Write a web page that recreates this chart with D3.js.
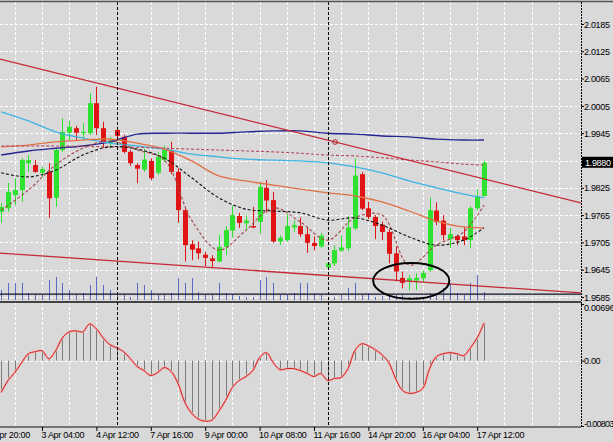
<!DOCTYPE html>
<html><head><meta charset="utf-8">
<script src="https://cdnjs.cloudflare.com/ajax/libs/d3/7.8.5/d3.min.js"></script>
<style>html,body{margin:0;padding:0;background:#d9d9d9;overflow:hidden}
text{font-family:"Liberation Sans",Arial,sans-serif;font-size:9px;letter-spacing:-0.3px;fill:#000}</style>
</head><body><svg id="c" width="613" height="442"></svg>
<script>
// ---- data ----
const opens=[1.9772,1.9780,1.9809,1.9820,1.9879,1.9875,1.9858,1.9860,1.9803,1.9908,1.9946,1.9956,1.9945,1.9945,2.0011,1.9956,1.9923,1.9952,1.9937,1.9904,1.9875,1.9865,1.9884,1.9858,1.9886,1.9906,1.9860,1.9776,1.9701,1.9692,1.9678,1.9670,1.9663,1.9695,1.9731,1.9763,1.9747,1.9741,1.9750,1.9825,1.9798,1.9707,1.9710,1.9738,1.9741,1.9723,1.9704,1.9696,1.9650,1.9659,1.9687,1.9692,1.9736,1.9855,1.9780,1.9761,1.9744,1.9728,1.9681,1.9627,1.9619,1.9621,1.9626,1.9644,1.9775,1.9753,1.9712,1.9719,1.9718,1.9710,1.9780,1.9807];
const highs=[1.9792,1.9836,1.9846,1.9890,1.9897,1.9886,1.9871,1.9879,1.9912,1.9978,1.9972,1.9961,1.9967,2.0033,2.0047,1.9970,1.9937,1.9959,1.9941,1.9908,1.9879,1.9911,1.9890,1.9904,1.9918,1.9926,1.9868,1.9781,1.9710,1.9707,1.9684,1.9677,1.9721,1.9741,1.9786,1.9770,1.9765,1.9783,1.9838,1.9842,1.9816,1.9721,1.9767,1.9754,1.9760,1.9739,1.9718,1.9726,1.9662,1.9699,1.9721,1.9763,1.9889,1.9860,1.9794,1.9765,1.9751,1.9734,1.9696,1.9641,1.9633,1.9637,1.9644,1.9804,1.9793,1.9765,1.9737,1.9722,1.9738,1.9785,1.9822,1.9884];
const lows=[1.9748,1.9772,1.9787,1.9794,1.9860,1.9858,1.9849,1.9759,1.9783,1.9904,1.9930,1.9930,1.9934,1.9941,1.9941,1.9912,1.9912,1.9930,1.9901,1.9873,1.9835,1.9860,1.9842,1.9853,1.9882,1.9855,1.9748,1.9663,1.9666,1.9668,1.9653,1.9651,1.9662,1.9677,1.9715,1.9737,1.9732,1.9736,1.9723,1.9770,1.9704,1.9699,1.9706,1.9728,1.9717,1.9682,1.9688,1.9693,1.9646,1.9653,1.9684,1.9686,1.9732,1.9776,1.9756,1.9712,1.9710,1.9659,1.9619,1.9604,1.9599,1.9600,1.9618,1.9640,1.9743,1.9710,1.9692,1.9699,1.9699,1.9692,1.9776,1.9805];
const closes=[1.9783,1.9816,1.9820,1.9886,1.9886,1.9860,1.9866,1.9802,1.9908,1.9948,1.9959,1.9946,1.9948,2.0011,1.9956,1.9923,1.9928,1.9939,1.9904,1.9879,1.9867,1.9887,1.9846,1.9893,1.9908,1.9860,1.9776,1.9699,1.9689,1.9681,1.9671,1.9664,1.9695,1.9732,1.9765,1.9748,1.9753,1.9738,1.9827,1.9797,1.9707,1.9715,1.9741,1.9743,1.9723,1.9704,1.9697,1.9720,1.9659,1.9688,1.9694,1.9738,1.9852,1.9779,1.9761,1.9741,1.9728,1.9680,1.9641,1.9616,1.9626,1.9627,1.9638,1.9776,1.9750,1.9721,1.9723,1.9710,1.9710,1.9780,1.9807,1.9880];
const volumes=[400,680,680,680,280,200,200,800,920,680,400,200,280,600,920,600,400,320,200,120,680,600,400,200,200,280,880,680,880,320,240,200,680,280,240,160,120,120,800,920,680,200,200,280,680,680,280,200,120,120,200,480,680,200,280,120,160,160,200,200,120,120,120,280,280,480,680,280,200,680,1000,320];
const macd=[-0.00390,-0.00244,-0.00146,-0.00024,0.00085,0.00110,0.00122,0.00024,0.00122,0.00280,0.00354,0.00366,0.00354,0.00451,0.00390,0.00280,0.00195,0.00158,0.00110,0.00024,-0.00073,-0.00122,-0.00183,-0.00146,-0.00085,-0.00134,-0.00280,-0.00512,-0.00646,-0.00719,-0.00744,-0.00731,-0.00622,-0.00488,-0.00329,-0.00244,-0.00195,-0.00122,0.00037,0.00098,-0.00024,-0.00110,-0.00098,-0.00098,-0.00122,-0.00158,-0.00195,-0.00158,-0.00244,-0.00219,-0.00207,-0.00098,0.00122,0.00207,0.00183,0.00134,0.00073,-0.00024,-0.00219,-0.00366,-0.00402,-0.00390,-0.00341,-0.00098,0.00049,0.00085,0.00098,0.00085,0.00061,0.00158,0.00280,0.00463];
// moving averages, sampled at these bars
const maBars=[0,4,8,12,16,20,24,28,32,36,40,44,48,52,56,60,64,68,71];
const maNavy=[1.9897,1.9906,1.9912,1.9917,1.9926,1.9943,1.9945,1.9945,1.9945,1.9948,1.9950,1.9950,1.9945,1.9943,1.9939,1.9937,1.9932,1.9930,1.9930];
const maCyan=[1.9992,1.9972,1.9948,1.9934,1.9923,1.9917,1.9910,1.9899,1.9893,1.9888,1.9886,1.9884,1.9880,1.9871,1.9858,1.9840,1.9825,1.9811,1.9803];
const maOrange=[1.9915,1.9919,1.9926,1.9930,1.9932,1.9923,1.9910,1.9884,1.9851,1.9840,1.9831,1.9822,1.9814,1.9807,1.9794,1.9774,1.9752,1.9739,1.9737];
const maRedDash=[1.9917,1.9917,1.9917,1.9916,1.9915,1.9914,1.9912,1.9910,1.9908,1.9906,1.9904,1.9901,1.9897,1.9895,1.9891,1.9886,1.9882,1.9877,1.9875];
const maBlackDash=[1.9858,1.9849,1.9864,1.9897,1.9915,1.9910,1.9890,1.9847,1.9803,1.9778,1.9774,1.9770,1.9754,1.9759,1.9743,1.9717,1.9699,1.9710,1.9737];
const maBrownDash=[1.9776,1.9820,1.9875,1.9912,1.9928,1.9908,1.9886,1.9754,1.9688,1.9732,1.9781,1.9750,1.9710,1.9759,1.9765,1.9655,1.9699,1.9728,1.9787];
// trendlines: [bar, price] pairs
const trendUpper=[[0,2.01074],[71,1.98445]];
const trendLower=[[0,1.96814],[71,1.96085]];
const trendMarkBar=49.1;
const hLevel=1.95915;
const currentPrice=1.9880;
const priceTicks=[2.0185,2.0125,2.0065,2.0005,1.9945,1.9885,1.9825,1.9765,1.9705,1.9645,1.9585];
const macdTicks=[0.00696,0,-0.00803];
const macdTickLabels=["0.00696","0.00","-0.00803"];
const timeBars=[-2,6,14,22,30,38,46,54,62,70];
const timeLabels=["1 Apr 20:00","3 Apr 04:00","4 Apr 12:00","7 Apr 16:00","9 Apr 00:00","10 Apr 08:00","11 Apr 16:00","14 Apr 20:00","16 Apr 04:00","17 Apr 12:00"];
const separatorBars=[17,48];
const ellipseBox={bar0:54.7,bar1:65.9,pTop:1.9660,pBot:1.9581};

// ---- layout ----
const svg=d3.select("#c");
const R=581, mainTop=2, mainBot=302, subTop=303, subBot=427;
const x=d3.scaleLinear().domain([0,71]).range([1.2,484]);
const y=d3.scaleLinear().domain([1.9585,2.0185]).range([297,24]);
const ym=d3.scaleLinear().domain([-0.00803,0.00696]).range([426,304]);
const yv=d3.scaleLinear().domain([0,1000]).range([300,275]);

svg.append("rect").attr("width",613).attr("height",442).attr("fill","#d9d9d9");
svg.append("defs").html('<clipPath id="cm"><rect x="0" y="'+mainTop+'" width="'+R+'" height="'+(mainBot-mainTop)+'"/></clipPath><clipPath id="cs"><rect x="0" y="'+subTop+'" width="'+R+'" height="'+(subBot-subTop)+'"/></clipPath>');

// grid
const gridBars=d3.range(2,84,4).filter(b=>b!==18);
const grid=svg.append("g").attr("stroke","#fff").attr("stroke-dasharray","3,2").attr("stroke-width",1);
gridBars.forEach(b=>{grid.append("line").attr("x1",Math.round(x(b))+0.5).attr("x2",Math.round(x(b))+0.5).attr("y1",mainTop).attr("y2",subBot);});
priceTicks.forEach(p=>{grid.append("line").attr("x1",0).attr("x2",R).attr("y1",Math.round(y(p))+0.5).attr("y2",Math.round(y(p))+0.5);});
grid.append("line").attr("x1",0).attr("x2",R).attr("y1",Math.round(ym(0))+0.5).attr("y2",Math.round(ym(0))+0.5);

const main=svg.append("g").attr("clip-path","url(#cm)");
// volumes
main.append("g").selectAll("line").data(volumes).join("line")
 .attr("x1",(d,i)=>Math.round(x(i))+0.5).attr("x2",(d,i)=>Math.round(x(i))+0.5)
 .attr("y1",yv(0)).attr("y2",d=>yv(d)).attr("stroke","#5b6cc8").attr("stroke-width",1);

// horizontal level
main.append("line").attr("x1",0).attr("x2",R).attr("y1",y(hLevel)).attr("y2",y(hLevel)).attr("stroke","#10102a").attr("stroke-width",1.3);

// candles
const cg=main.append("g");
opens.forEach((o,i)=>{
  const c=closes[i], up=c>=o, col=up?"#2fe22f":"#e01414";
  const cx=Math.round(x(i))+0.5;
  cg.append("line").attr("x1",cx).attr("x2",cx).attr("y1",y(highs[i])).attr("y2",y(lows[i])).attr("stroke",col).attr("stroke-width",1);
  const top=y(Math.max(o,c)), h=Math.max(1.5,Math.abs(y(o)-y(c)));
  cg.append("rect").attr("x",cx-2.5).attr("y",top).attr("width",5).attr("height",h).attr("fill",col);
});

// moving averages
function maLine(vals,col,dash,w){
  const g=d3.line().x((d,k)=>x(maBars[k])).y(d=>y(d)).curve(d3.curveCatmullRom.alpha(0.5));
  main.append("path").attr("d",g(vals)).attr("fill","none").attr("stroke",col).attr("stroke-width",w||1.2).attr("stroke-dasharray",dash||null);
}
maLine(maNavy,"#262690",null,1.4);
maLine(maCyan,"#3fb4e4",null,1.3);
maLine(maOrange,"#e07045",null,1.3);
maLine(maRedDash,"#b84a62","3,2",1.1);
maLine(maBrownDash,"#a34848","3,2",1.1);
maLine(maBlackDash,"#111","3,2",1.1);

// trendlines (extended as rays)
function ray(pts,col){
  const s=(pts[1][1]-pts[0][1])/(pts[1][0]-pts[0][0]);
  const b0=x.invert(0), b1=x.invert(R);
  main.append("line").attr("x1",0).attr("y1",y(pts[0][1]+s*(b0-pts[0][0])))
   .attr("x2",R).attr("y2",y(pts[0][1]+s*(b1-pts[0][0]))).attr("stroke",col).attr("stroke-width",1.3);
  return s;
}
const sU=ray(trendUpper,"#c42a36");
ray(trendLower,"#c42a36");
main.append("circle").attr("cx",x(trendMarkBar)).attr("cy",y(trendUpper[0][1]+sU*(trendMarkBar-trendUpper[0][0])))
 .attr("r",2.3).attr("fill","none").attr("stroke","#b02020").attr("stroke-width",1);

// ellipse
main.append("ellipse").attr("cx",(x(ellipseBox.bar0)+x(ellipseBox.bar1))/2).attr("cy",(y(ellipseBox.pTop)+y(ellipseBox.pBot))/2)
 .attr("rx",(x(ellipseBox.bar1)-x(ellipseBox.bar0))/2).attr("ry",(y(ellipseBox.pBot)-y(ellipseBox.pTop))/2)
 .attr("fill","none").attr("stroke","#000").attr("stroke-width",2);

// sub window: MACD
const sub=svg.append("g").attr("clip-path","url(#cs)");
sub.append("g").selectAll("line").data(macd).join("line")
 .attr("x1",(d,i)=>Math.round(x(i))+0.5).attr("x2",(d,i)=>Math.round(x(i))+0.5)
 .attr("y1",ym(0)).attr("y2",d=>ym(d)).attr("stroke","#7c7c7c").attr("stroke-width",1);
const sl=d3.line().x((d,i)=>x(i)).y(d=>ym(d)).curve(d3.curveCatmullRom.alpha(0.5));
sub.append("path").attr("d",sl(macd)).attr("fill","none").attr("stroke","#f0b0b0").attr("stroke-width",2.2);
sub.append("path").attr("d",sl(macd)).attr("fill","none").attr("stroke","#d42020").attr("stroke-width",1);

// separators (period)
separatorBars.forEach(b=>{svg.append("line").attr("x1",Math.round(x(b))+0.5).attr("x2",Math.round(x(b))+0.5).attr("y1",mainTop).attr("y2",subBot)
 .attr("stroke","#000").attr("stroke-dasharray","3,2").attr("stroke-width",1);});

// frame
svg.append("line").attr("x1",0).attr("x2",613).attr("y1",1.5).attr("y2",1.5).attr("stroke","#555").attr("stroke-width",1.5);
svg.append("line").attr("x1",0).attr("x2",R).attr("y1",mainBot).attr("y2",mainBot).attr("stroke","#111").attr("stroke-width",1.3);
svg.append("line").attr("x1",0).attr("x2",R).attr("y1",subBot).attr("y2",subBot).attr("stroke","#111").attr("stroke-width",1);
svg.append("line").attr("x1",R+0.5).attr("x2",R+0.5).attr("y1",mainTop).attr("y2",subBot).attr("stroke","#000").attr("stroke-dasharray","2,1").attr("stroke-width",1);

// right price axis
const ay=d3.axisRight(y).tickValues(priceTicks.filter(p=>Math.abs(p-currentPrice)>0.001)).tickSize(3).tickFormat(d3.format(".4f"));
const gA=svg.append("g").attr("transform","translate("+R+",0)").call(ay);
gA.select(".domain").remove();
gA.selectAll("text").attr("x",3).attr("dy","0.35em");
gA.selectAll("line").attr("stroke","#000");
// current price tag
const cy=y(currentPrice);
svg.append("rect").attr("x",R+1).attr("y",cy-6).attr("width",613-R-1).attr("height",11).attr("fill","#000");
svg.append("text").attr("x",R+4).attr("y",cy).attr("dy","0.35em").style("fill","#fff").text(d3.format(".4f")(currentPrice));

// macd axis
const am=d3.axisRight(ym).tickValues(macdTicks).tickSize(3).tickFormat((d,i)=>macdTickLabels[i]);
const gM=svg.append("g").attr("transform","translate("+R+",0)").call(am);
gM.select(".domain").remove();
gM.selectAll("text").attr("x",3).attr("dy",(d,i)=>i===0?"0.75em":(i===2?"0em":"0.35em")).style("letter-spacing",(d,i)=>i===2?"-0.75px":null);
gM.selectAll("line").attr("stroke","#000");

// time axis
const ax=d3.axisBottom(x).tickValues(timeBars).tickSize(4).tickFormat((d,i)=>timeLabels[i]);
const gT=svg.append("g").attr("transform","translate(0,"+subBot+")").call(ax);
gT.select(".domain").remove();
gT.selectAll("line").attr("stroke","#000");
gT.selectAll("text").attr("text-anchor","start").attr("x",-1).attr("y",5).attr("dy","0.71em");
svg.selectAll(".tick text").style("font-family",'"Liberation Sans",Arial,sans-serif').style("font-size","9px");
</script></body></html>
